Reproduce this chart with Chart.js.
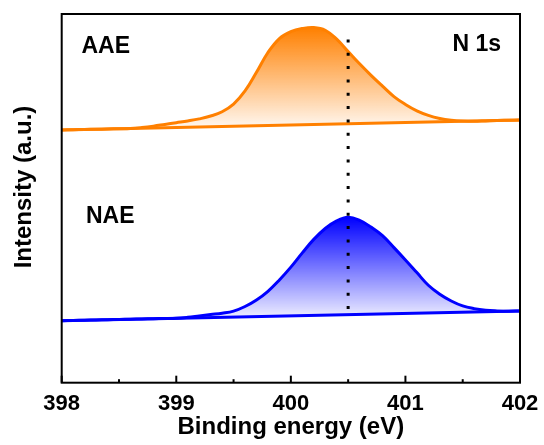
<!DOCTYPE html>
<html>
<head>
<meta charset="utf-8">
<script src="https://cdn.jsdelivr.net/npm/chart.js@4/dist/chart.umd.min.js"></script>
<style>
  body { margin: 0; background: #fff; }
  #wrap { width: 544px; height: 445px; position: relative; }
</style>
</head>
<body>
<div id="wrap"><canvas id="xps"></canvas></div>
<script>
// binding energy (eV), every 0.1 eV
const energy = [398.0, 398.1, 398.2, 398.3, 398.4, 398.5, 398.6, 398.7, 398.8, 398.9,
  399.0, 399.1, 399.2, 399.3, 399.4, 399.5, 399.6, 399.7, 399.8, 399.9,
  400.0, 400.1, 400.2, 400.3, 400.4, 400.5, 400.6, 400.7, 400.8, 400.9,
  401.0, 401.1, 401.2, 401.3, 401.4, 401.5, 401.6, 401.7, 401.8, 401.9, 402.0];

// AAE spectrum (orange, top)
const aae = [68.54, 68.61, 68.68, 68.74, 68.81, 68.88, 68.95, 69.21, 69.58, 70.05,
  70.52, 70.99, 71.55, 72.32, 73.49, 75.56, 79.12, 84.19, 89.56, 93.33,
  95.20, 96.06, 96.33, 95.60, 93.17, 89.84, 86.50, 83.37, 80.44, 77.61,
  75.47, 73.74, 72.51, 71.68, 71.20, 70.96, 70.88, 71.00, 71.12, 71.18, 71.25];

// NAE spectrum (blue, bottom)
const nae = [16.82, 16.89, 16.95, 17.02, 17.08, 17.15, 17.21, 17.28, 17.35, 17.41,
  17.48, 17.74, 18.11, 18.48, 18.84, 19.41, 20.67, 22.44, 24.80, 27.87,
  31.34, 35.20, 38.87, 41.83, 43.90, 44.87, 44.03, 42.20, 39.86, 36.63,
  33.29, 29.86, 26.43, 23.99, 22.16, 20.82, 20.09, 19.66, 19.47, 19.39, 19.45];

// straight backgrounds under each peak
const baseX = [398, 402];
const aaeBaseline = [68.54, 71.25];
const naeBaseline = [16.82, 19.45];

// dotted marker line
const markerX = 400.5;
const markerY = [93.1, 19.7];

const xTicks = [398, 399, 400, 401, 402];

const ORANGE = 'rgb(255,128,0)';
const BLUE = 'rgb(0,0,255)';
const FONT = "'Liberation Sans', Arial, sans-serif";

Chart.defaults.font.family = FONT;
Chart.defaults.color = '#000';

const pts = (xs, ys) => xs.map((x, i) => ({ x: x, y: ys[i] }));

// vertical gradient from the peak top down to the baseline
function fadeFill(data, base, r, g, b) {
  return function (ctx) {
    const chart = ctx.chart;
    if (!chart.chartArea) return 'rgba(' + r + ',' + g + ',' + b + ',0.3)';
    const y = chart.scales.y;
    const top = y.getPixelForValue(Math.max(...data));
    const bottom = y.getPixelForValue(Math.min(...base));
    const grad = chart.ctx.createLinearGradient(0, top, 0, bottom);
    grad.addColorStop(0, 'rgba(' + r + ',' + g + ',' + b + ',1)');
    grad.addColorStop(1, 'rgba(' + r + ',' + g + ',' + b + ',0.04)');
    return grad;
  };
}

// frame, inward ticks, labels
const decor = {
  id: 'decor',
  afterDraw(chart) {
    const c = chart.ctx;
    const a = chart.chartArea;
    const xs = chart.scales.x;
    c.save();
    c.strokeStyle = '#000';
    c.lineWidth = 2;
    c.strokeRect(a.left, a.top, a.right - a.left, a.bottom - a.top);

    for (let v = 398; v <= 402; v += 0.5) {
      const px = xs.getPixelForValue(v);
      const len = Number.isInteger(v) ? 7 : 3.5;
      c.beginPath();
      c.moveTo(px, a.bottom);
      c.lineTo(px, a.bottom - len);
      c.stroke();
    }

    c.fillStyle = '#000';
    c.font = 'bold 23px ' + FONT;
    c.textBaseline = 'middle';
    c.textAlign = 'left';
    c.fillText('AAE', 81.5, 47);
    c.fillText('NAE', 86, 216.5);
    c.textAlign = 'right';
    c.fillText('N 1s', 501, 45);

    // y axis title
    c.font = 'bold 24px ' + FONT;
    c.textAlign = 'center';
    c.translate(24, 187);
    c.rotate(-Math.PI / 2);
    c.fillText('Intensity (a.u.)', 0, 0);
    c.restore();
  }
};

new Chart(document.getElementById('xps'), {
  type: 'line',
  data: {
    datasets: [
      {
        label: 'marker',
        data: pts([markerX, markerX], markerY),
        borderColor: '#000',
        borderWidth: 3,
        borderDash: [3, 10.33],
        borderCapStyle: 'butt',
        pointRadius: 0,
        fill: false
      },
      {
        label: 'AAE',
        data: pts(energy, aae),
        borderColor: ORANGE,
        borderWidth: 3,
        pointRadius: 0,
        tension: 0.4,
        fill: { target: 2 },
        backgroundColor: fadeFill(aae, aaeBaseline, 255, 128, 0)
      },
      {
        label: 'AAE background',
        data: pts(baseX, aaeBaseline),
        borderColor: ORANGE,
        borderWidth: 3,
        pointRadius: 0,
        fill: false
      },
      {
        label: 'NAE',
        data: pts(energy, nae),
        borderColor: BLUE,
        borderWidth: 3,
        pointRadius: 0,
        tension: 0.4,
        fill: { target: 4 },
        backgroundColor: fadeFill(nae, naeBaseline, 0, 0, 255)
      },
      {
        label: 'NAE background',
        data: pts(baseX, naeBaseline),
        borderColor: BLUE,
        borderWidth: 3,
        pointRadius: 0,
        fill: false
      }
    ]
  },
  options: {
    responsive: true,
    maintainAspectRatio: false,
    animation: false,
    layout: { padding: { left: 61.7, top: 14, right: 24, bottom: 0 } },
    plugins: {
      legend: { display: false },
      tooltip: { enabled: false }
    },
    scales: {
      x: {
        type: 'linear',
        min: 398,
        max: 402,
        grid: { display: false, drawTicks: false },
        border: { display: false },
        afterBuildTicks: (s) => { s.ticks = xTicks.map(v => ({ value: v })); },
        afterFit: (s) => {
          s.height = 445 - 382.7;
          s.paddingLeft = 0;
          s.paddingRight = 0;
        },
        ticks: {
          padding: 8,
          maxRotation: 0,
          autoSkip: false,
          color: '#000',
          font: { size: 22, weight: 'bold' },
          callback: (v) => v
        },
        title: {
          display: true,
          text: 'Binding energy (eV)',
          color: '#000',
          font: { size: 24, weight: 'bold' },
          padding: { top: 0, bottom: 3.6 }
        }
      },
      y: {
        display: false,
        min: 0,
        max: 100
      }
    }
  },
  plugins: [decor]
});
</script>
</body>
</html>
